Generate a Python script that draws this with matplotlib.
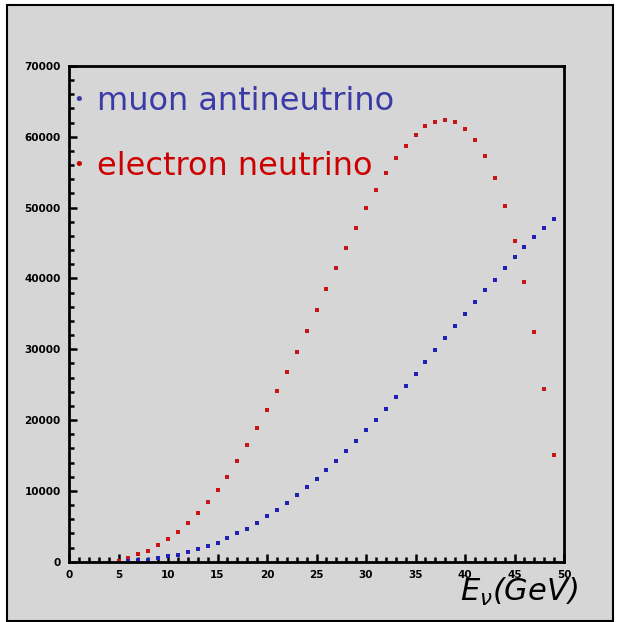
import numpy as np
import matplotlib
matplotlib.use('Agg')
import matplotlib.pyplot as plt
from matplotlib.patches import Rectangle
from matplotlib.ticker import MultipleLocator

# energies (GeV) and event counts
e_red = list(range(5, 50))
n_red = [150, 500, 1040, 1550, 2400, 3200, 4240, 5510, 6920, 8390,
         10170, 12000, 14260, 16480, 18840, 21380, 24100, 26790, 29650, 32620,
         35540, 38550, 41470, 44340, 47170, 49900, 52490, 54850, 56970, 58700,
         60300, 61490, 62090, 62380, 62050, 61060, 59550, 57250, 54140, 50190,
         45330, 39460, 32400, 24430, 15110]

e_blue = list(range(6, 50))
n_blue = [100, 200, 300, 480, 750, 990, 1330, 1750, 2220, 2680,
          3300, 4050, 4660, 5510, 6410, 7260, 8330, 9420, 10550, 11720,
          12950, 14260, 15680, 17090, 18560, 20050, 21610, 23260, 24770, 26460,
          28160, 29850, 31550, 33240, 34940, 36630, 38330, 39830, 41430, 42990,
          44480, 45850, 47120, 48350]

bg = '#d6d6d6'
fig = plt.figure(figsize=(6.19, 6.22), dpi=100)
fig.patch.set_facecolor('white')
fig.patches.append(Rectangle((7/619, 1/622), 606/619, 616/622, transform=fig.transFigure,
                             facecolor=bg, edgecolor='black', linewidth=1.5, zorder=-1))

ax = fig.add_axes([69/619, 60.3/622, 495/619, 495.7/622])
ax.set_facecolor(bg)
ax.plot(e_red, n_red, 's', color='#c81414', markersize=2.8, markeredgewidth=0)
ax.plot(e_blue, n_blue, 's', color='#2020b4', markersize=2.8, markeredgewidth=0)

ax.set_xlim(0, 50)
ax.set_ylim(0, 70000)
ax.xaxis.set_major_locator(MultipleLocator(5))
ax.xaxis.set_minor_locator(MultipleLocator(1))
ax.yaxis.set_major_locator(MultipleLocator(10000))
ax.yaxis.set_minor_locator(MultipleLocator(2000))
for s in ax.spines.values():
    s.set_linewidth(2.0)
ax.tick_params(which='both', direction='in', top=False, right=False, width=1.8)
ax.tick_params(which='major', length=6, labelsize=7.5, pad=6)
ax.tick_params(which='minor', length=3.5)
for lab in ax.get_xticklabels() + ax.get_yticklabels():
    lab.set_fontweight('bold')

ax.text(0.008, 0.931, '•', transform=ax.transAxes, color='#3a3aa8', fontsize=13, va='center')
ax.text(0.056, 0.929, 'muon antineutrino', transform=ax.transAxes, color='#3a3aa8',
        fontsize=23, va='center')
ax.text(0.008, 0.80, '•', transform=ax.transAxes, color='#cc0000', fontsize=13, va='center')
ax.text(0.056, 0.798, 'electron neutrino', transform=ax.transAxes, color='#cc0000',
        fontsize=23, va='center')

fig.text(578/619, 1 - 592/622, r'$E_\nu$(GeV)', ha='right', va='center',
         fontsize=22, color='black', style='italic')

fig.savefig('out.png', dpi=100, facecolor='white')
